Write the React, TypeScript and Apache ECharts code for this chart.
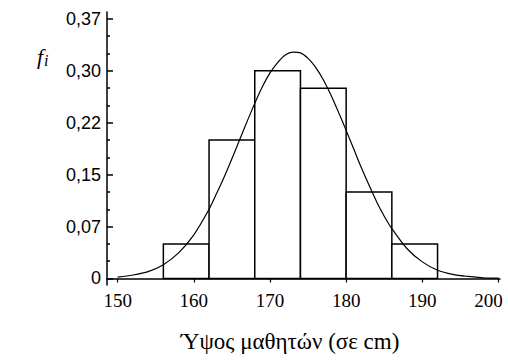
import React, { useEffect, useRef } from "react";
import * as echarts from "echarts";

const binStarts = [156, 162, 168, 174, 180, 186];
const binEnds = [162, 168, 174, 180, 186, 192];
const freqs = [0.05, 0.2, 0.3, 0.275, 0.125, 0.05];

const curveX = [150, 152, 154, 156, 158, 160, 162, 163, 164, 165, 166, 167, 168, 169, 170, 171, 172, 173, 174, 175, 176, 177, 178, 179, 180, 181, 182, 183, 184, 185, 186, 188, 190, 192, 194, 196, 198, 200];
const curveY = [0.002, 0.005, 0.010, 0.020, 0.037, 0.063, 0.100, 0.123, 0.147, 0.173, 0.200, 0.227, 0.253, 0.277, 0.297, 0.312, 0.323, 0.327, 0.326, 0.318, 0.305, 0.287, 0.265, 0.240, 0.214, 0.187, 0.160, 0.135, 0.111, 0.090, 0.072, 0.043, 0.024, 0.012, 0.006, 0.003, 0.001, 0.0004];

const xTicks = [150, 160, 170, 180, 190, 200];
const yTicks = [0, 0.075, 0.15, 0.225, 0.3, 0.375];
const yTickLabels = ["0", "0,07", "0,15", "0,22", "0,30", "0,37"];
const yMinorTicks = [0.025, 0.05, 0.1, 0.125, 0.175, 0.2, 0.25, 0.275, 0.325, 0.35];

const xTitle = "Ύψος μαθητών (σε cm)";

export default function App() {
  const ref = useRef<HTMLDivElement>(null);
  useEffect(() => {
    if (!ref.current) return;
    const chart = echarts.init(ref.current, null, { renderer: "svg" });
    const yMin = -0.0094;
    const yMax = 0.385;
    const bars = binStarts.map((s, i) => [s, binEnds[i], freqs[i]]);
    const curve = curveX.map((x, i) => [x, curveY[i]]);
    const xLabelFont = { fontFamily: "Liberation Serif", fontSize: 19, color: "#000" };
    chart.setOption({
      animation: false,
      backgroundColor: "#fff",
      grid: { left: 107, right: 8, top: 12, bottom: 75, containLabel: false, outerBoundsMode: "none" },
      xAxis: {
        type: "value",
        min: 148.6,
        max: 200.2,
        axisLine: { lineStyle: { color: "#000", width: 1.5 } },
        axisTick: { customValues: xTicks, length: 4, lineStyle: { color: "#000", width: 1.2 } },
        axisLabel: {
          customValues: xTicks,
          ...xLabelFont,
          margin: 6,
          formatter: (v: number) => (v === xTicks[xTicks.length - 1] ? `{last|${v}}` : `{n|${v}}`),
          rich: {
            n: { ...xLabelFont },
            last: { ...xLabelFont, padding: [0, 20, 0, 0] },
          },
        },
        splitLine: { show: false },
        name: xTitle,
        nameLocation: "middle",
        nameGap: 45,
        nameTextStyle: { color: "#000", fontFamily: "Liberation Serif", fontSize: 23, padding: [0, 27, 0, 0] },
      },
      yAxis: [
        {
          type: "value",
          min: yMin,
          max: yMax,
          axisLine: { show: true, lineStyle: { color: "#000", width: 1.5 } },
          axisTick: { customValues: yTicks, inside: true, length: 6, lineStyle: { color: "#000", width: 1.5 } },
          axisLabel: {
            customValues: yTicks,
            color: "#000",
            fontFamily: "Liberation Sans",
            fontSize: 18,
            margin: 6,
            formatter: (v: number) => {
              const idx = yTicks.findIndex((t) => Math.abs(t - v) < 1e-6);
              return idx >= 0 ? yTickLabels[idx] : "";
            },
          },
          splitLine: { show: false },
        },
        {
          type: "value",
          position: "left",
          min: yMin,
          max: yMax,
          axisLine: { show: false },
          axisTick: { show: true, customValues: yMinorTicks, inside: true, length: 3, lineStyle: { color: "#000", width: 1.5 } },
          axisLabel: { show: false },
          splitLine: { show: false },
        },
      ],
      graphic: [
        {
          type: "text",
          left: 37,
          top: 45,
          style: {
            text: "{f|f}{i|i}",
            rich: {
              f: { fontFamily: "Liberation Serif", fontStyle: "italic", fontSize: 22, fill: "#000" },
              i: { fontFamily: "Liberation Serif", fontStyle: "italic", fontSize: 16, fill: "#000", verticalAlign: "bottom", padding: [8, 0, 0, 1] },
            },
          },
        },
      ],
      series: [
        {
          type: "custom",
          xAxisIndex: 0,
          yAxisIndex: 0,
          data: bars,
          encode: { x: [0, 1], y: 2 },
          renderItem: (params: any, api: any) => {
            const p0 = api.coord([api.value(0), api.value(2)]);
            const p1 = api.coord([api.value(1), 0]);
            return {
              type: "rect",
              shape: { x: p0[0], y: p0[1], width: p1[0] - p0[0], height: p1[1] - p0[1] },
              style: { fill: "#fff", stroke: "#000", lineWidth: 1.5 },
            };
          },
          z: 2,
        },
        {
          type: "line",
          xAxisIndex: 0,
          yAxisIndex: 0,
          data: curve,
          smooth: 0.3,
          showSymbol: false,
          symbol: "none",
          lineStyle: { color: "#000", width: 1.2 },
          z: 3,
        },
      ],
    });
    return () => chart.dispose();
  }, []);
  return <div ref={ref} style={{ position: "fixed", left: 0, top: 0, width: 508, height: 360 }} />;
}
